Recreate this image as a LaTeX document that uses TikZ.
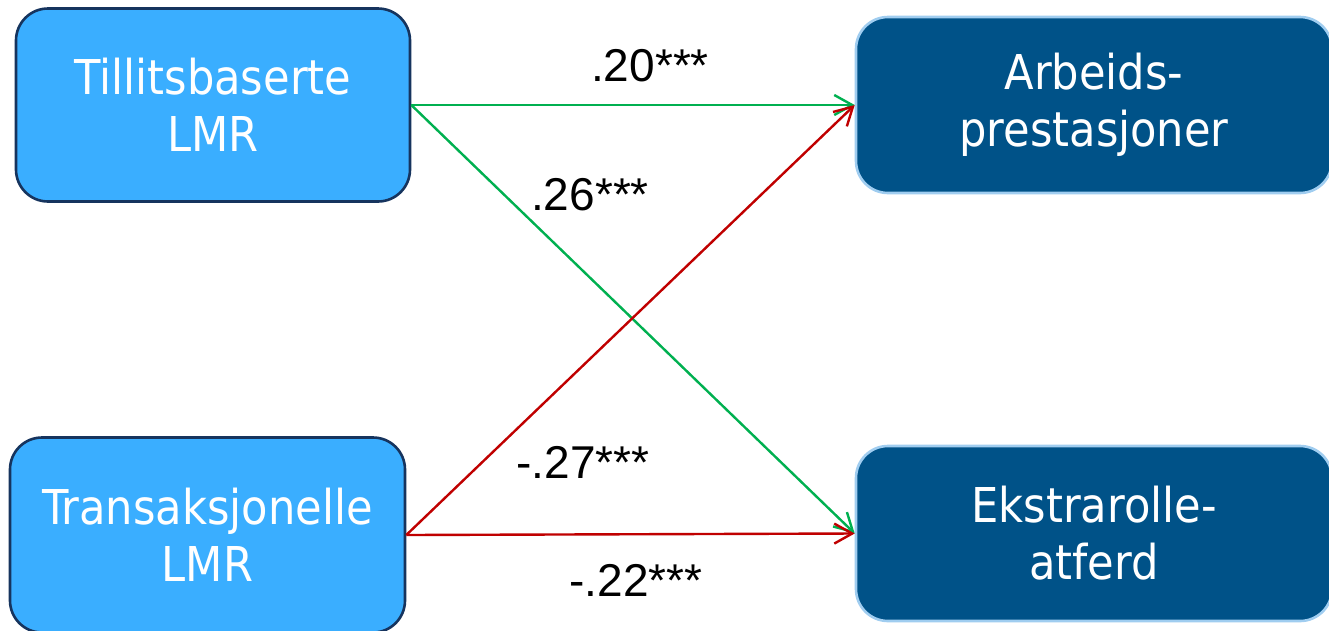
\documentclass[tikz,border=0pt]{standalone}
\usepackage{fontspec}
\setmainfont{Liberation Sans}
\newfontfamily\boxfont{DejaVu Sans Condensed}
\usetikzlibrary{arrows.meta}
\definecolor{lightfill}{RGB}{58,174,255}
\definecolor{lightborder}{RGB}{22,52,94}
\definecolor{darkfill}{RGB}{0,82,136}
\definecolor{darkborder}{RGB}{160,205,240}
\definecolor{pathgreen}{RGB}{0,176,80}
\definecolor{pathred}{RGB}{192,0,0}
\tikzset{
  srcbox/.style={draw=lightborder, line width=2.6pt, fill=lightfill, rounded corners=32pt,
    text=white, align=center, inner sep=0pt,
    font=\boxfont\fontsize{48}{57}\selectfont},
  outbox/.style={draw=darkborder, line width=2.6pt, fill=darkfill, rounded corners=32pt,
    text=white, align=center, inner sep=0pt,
    font=\boxfont\fontsize{48}{57}\selectfont},
  coef/.style={font=\fontsize{46}{50}\selectfont, text=black, inner sep=0pt},
  pathline/.style={line width=2.4pt, -{Straight Barb[length=18pt,width=20pt,line width=2.4pt]}},
}
\begin{document}
\begin{tikzpicture}[x=1pt,y=-1pt]
\useasboundingbox (0,0) rectangle (1329,630);
\fill[white] (0,0) rectangle (1329,630);
\node[srcbox, minimum width=394pt, minimum height=193pt] (tl) at (213,105) {Tillitsbaserte\\LMR};
\node[srcbox, minimum width=395pt, minimum height=195pt] (tr) at (207.5,535) {Transaksjonelle\\LMR};
\node[outbox, minimum width=476pt, minimum height=176pt] (ap) at (1094,105) {Arbeids-\\prestasjoner};
\node[outbox, minimum width=476pt, minimum height=175pt] (ek) at (1094,533.5) {Ekstrarolle-\\atferd};
\draw[pathline, pathgreen] (tl.east) -- (ap.west);
\draw[pathline, pathgreen] (tl.east) -- (ek.west);
\draw[pathline, pathred] (tr.east) -- (ap.west);
\draw[pathline, pathred] (tr.east) -- (ek.west);
\node[coef] (c1) at (650,66) {.20***};
\node[coef] (c2) at (590,195) {.26***};
\node[coef] (c3) at (583,462) {-.27***};
\node[coef] (c4) at (636,580) {-.22***};
\end{tikzpicture}
\end{document}
